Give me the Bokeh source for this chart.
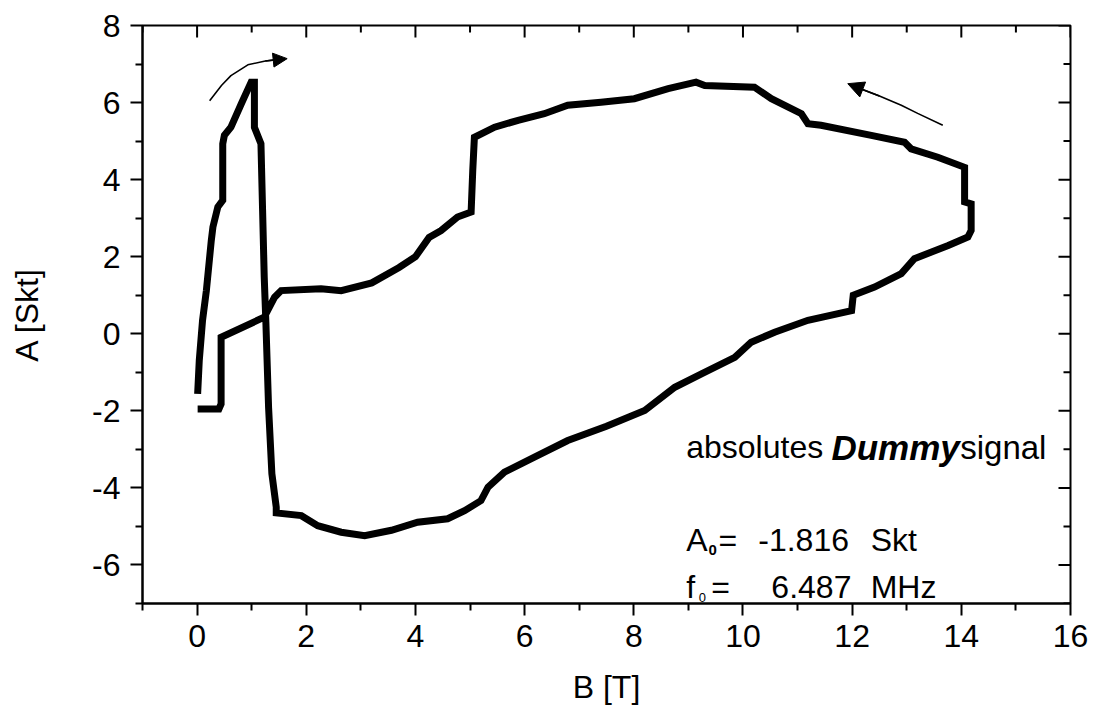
from bokeh.plotting import figure
from bokeh.models import FixedTicker, Arrow, NormalHead, Range1d
from bokeh.core.properties import value
from bokeh.embed import file_html
from bokeh.resources import INLINE

FONT = "Liberation Sans"

# Field sweep B [T] and amplitude A [Skt], in measurement order
b_field = [0.01, 0.04, 0.10, 0.17, 0.26, 0.29, 0.38, 0.47, 0.47, 0.50, 0.62, 0.81, 0.99,
           1.05, 1.05, 1.17, 1.20, 1.23, 1.26, 1.31, 1.37, 1.45, 1.45,
           1.91, 2.21, 2.64, 3.07, 3.56, 4.04, 4.59, 4.90, 5.20, 5.33, 5.63, 6.18, 6.79,
           7.50, 8.20, 8.75, 9.24, 9.85, 10.15, 10.58, 11.19, 11.99, 12.02, 12.41, 12.90,
           13.14, 13.76, 14.12, 14.18, 14.18, 14.06, 14.06, 13.57, 13.08, 12.96, 12.35,
           11.43, 11.19, 11.07, 10.52, 10.21, 9.30, 9.14, 8.63, 8.01, 7.40, 6.79, 6.36,
           5.88, 5.45, 5.08, 5.05, 5.02, 4.77, 4.47, 4.25, 4.00, 3.70, 3.20, 2.64, 2.27,
           1.54, 1.42, 1.23, 0.44, 0.44, 0.40, 0.01]
amplitude = [-1.56, -0.69, 0.35, 1.12, 2.42, 2.77, 3.29, 3.46, 4.93, 5.15, 5.36, 5.97, 6.53,
             6.53, 5.36, 4.93, 3.20, 1.47, 0.30, -1.92, -3.63, -4.50, -4.65,
             -4.72, -4.98, -5.15, -5.24, -5.10, -4.89, -4.80, -4.59, -4.33, -3.98, -3.59,
             -3.20, -2.77, -2.40, -1.99, -1.39, -1.04, -0.61, -0.22, 0.04, 0.35, 0.60, 1.00,
             1.21, 1.56, 1.95, 2.29, 2.51, 2.68, 3.37, 3.42, 4.32, 4.58, 4.80, 4.97, 5.15,
             5.41, 5.45, 5.71, 6.10, 6.40, 6.44, 6.53, 6.36, 6.10, 6.01, 5.93, 5.71,
             5.54, 5.36, 5.10, 4.24, 3.16, 3.03, 2.68, 2.50, 2.00, 1.72, 1.32, 1.12, 1.17,
             1.12, 0.95, 0.43, -0.09, -1.82, -1.95, -1.95]

x_major = [0, 2, 4, 6, 8, 10, 12, 14, 16]
x_minor = [-1, 1, 3, 5, 7, 9, 11, 13, 15]
y_major = [-6, -4, -2, 0, 2, 4, 6, 8]
y_minor = [-7, -5, -3, -1, 1, 3, 5, 7]
x_labels = ["0", "2", "4", "6", "8", "10", "12", "14", "16"]
y_labels = ["-6", "-4", "-2", "0", "2", "4", "6", "8"]

# sweep-direction arrows (curved shafts)
up_arrow_b = [0.23, 0.45, 0.62, 0.93, 1.25, 1.50]
up_arrow_a = [6.05, 6.45, 6.70, 6.98, 7.08, 7.12]
down_arrow_b = [13.66, 13.20, 12.90, 12.50, 12.15]
down_arrow_a = [5.41, 5.72, 5.93, 6.17, 6.36]

X0, X1, Y0, Y1 = -1, 16, -7, 8
W, H = 1096, 715
BL, BR, BT, BB = 142, 26, 25, 112

p = figure(width=W, height=H, x_range=Range1d(X0, X1), y_range=Range1d(Y0, Y1),
           output_backend="svg", toolbar_location=None,
           min_border_left=BL, min_border_right=BR, min_border_top=BT, min_border_bottom=BB,
           x_axis_label="B [T]", y_axis_label="A [Skt]")
p.grid.visible = False
p.outline_line_color = "black"
p.outline_line_width = 2
p.background_fill_color = "white"
p.border_fill_color = "white"


def style_axis(ax, major, minor, labels):
    ax.ticker = FixedTicker(ticks=major, minor_ticks=minor)
    ax.axis_line_width = 2
    ax.axis_line_color = "black"
    ax.major_tick_line_width = 2
    ax.minor_tick_line_width = 2
    ax.major_tick_line_color = "black"
    ax.minor_tick_line_color = "black"
    ax.major_tick_out, ax.major_tick_in = 12, 0
    ax.minor_tick_out, ax.minor_tick_in = 7, 0
    ax.major_label_text_font = FONT
    ax.major_label_text_font_size = "32px"
    ax.major_label_text_color = "black"
    ax.major_label_overrides = dict(zip(major, labels))
    ax.axis_label_text_font = FONT
    ax.axis_label_text_font_size = "32px"
    ax.axis_label_text_font_style = "normal"
    ax.axis_label_text_color = "black"


style_axis(p.xaxis[0], x_major, x_minor, x_labels)
style_axis(p.yaxis[0], y_major, y_minor, y_labels)
p.xaxis[0].major_label_standoff = 9
p.xaxis[0].axis_label_standoff = 19
p.yaxis[0].major_label_standoff = 10
p.yaxis[0].axis_label_standoff = 44

# inward ticks on the top and right frame edges (lengths in pixels -> data units)
px_x = (X1 - X0) / (W - BL - BR)
px_y = (Y1 - Y0) / (H - BT - BB)
top_x = x_major + x_minor
top_len = [12 * px_y] * len(x_major) + [7 * px_y] * len(x_minor)
p.segment(x0=top_x, y0=[Y1] * len(top_x), x1=top_x, y1=[Y1 - l for l in top_len],
          line_color="black", line_width=2)
right_y = y_major + y_minor
right_len = [12 * px_x] * len(y_major) + [7 * px_x] * len(y_minor)
p.segment(x0=[X1] * len(right_y), y0=right_y, x1=[X1 - l for l in right_len], y1=right_y,
          line_color="black", line_width=2)

# measured loop
p.line(b_field, amplitude, line_width=7, line_color="black", line_join="miter")

# direction arrows
p.line(up_arrow_b, up_arrow_a, line_width=1.6, line_color="black")
p.add_layout(Arrow(end=NormalHead(size=14, fill_color="black", line_color="black", line_width=1),
                   x_start=up_arrow_b[-2], y_start=up_arrow_a[-2],
                   x_end=1.65, y_end=7.14, line_width=1.6, line_color="black"))
p.line(down_arrow_b, down_arrow_a, line_width=1.6, line_color="black")
p.add_layout(Arrow(end=NormalHead(size=16, fill_color="black", line_color="black", line_width=1),
                   x_start=down_arrow_b[-2], y_start=down_arrow_a[-2],
                   x_end=11.92, y_end=6.49, line_width=1.6, line_color="black"))

# annotation block
common = dict(text_font=value(FONT), text_color="black", text_baseline="alphabetic",
              text_align="left")
p.text(x=[8.96], y=[-2.95], text=["absolutes"], text_font_size="32px", **common)
p.text(x=[11.62], y=[-2.95], text=["Dummy"], text_font_size="35px",
       text_font_style="bold italic", **common)
p.text(x=[13.98], y=[-2.95], text=["signal"], text_font_size="33px", **common)

p.text(x=[8.96], y=[-5.36], text=["A"], text_font_size="32px", **common)
p.text(x=[9.37], y=[-5.62], text=["0"], text_font_size="15px", text_font_style="bold", **common)
p.text(x=[9.55], y=[-5.36], text=["="], text_font_size="32px", **common)
p.text(x=[10.28], y=[-5.36], text=["-1.816"], text_font_size="32px", **common)
p.text(x=[12.34], y=[-5.36], text=["Skt"], text_font_size="32px", **common)

p.text(x=[8.96], y=[-6.58], text=["f"], text_font_size="32px", **common)
p.text(x=[9.19], y=[-6.84], text=["0"], text_font_size="13px", **common)
p.text(x=[9.42], y=[-6.58], text=["="], text_font_size="32px", **common)
p.text(x=[10.52], y=[-6.58], text=["6.487"], text_font_size="32px", **common)
p.text(x=[12.34], y=[-6.58], text=["MHz"], text_font_size="32px", **common)

open("out.html", "w").write(file_html(p, INLINE))
